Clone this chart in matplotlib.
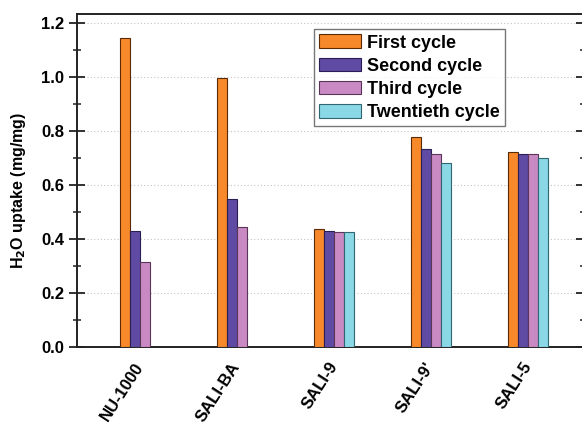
import numpy as np
import matplotlib.pyplot as plt
import matplotlib.transforms as mtrans
from matplotlib.ticker import MultipleLocator

# Data
materials = ['NU-1000', 'SALI-BA', 'SALI-9', "SALI-9'", 'SALI-5']
first_cycle = [1.143, 0.995, 0.437, 0.779, 0.722]
second_cycle = [0.428, 0.549, 0.430, 0.733, 0.714]
third_cycle = [0.313, 0.443, 0.426, 0.714, 0.714]
twentieth_cycle = [np.nan, np.nan, 0.426, 0.681, 0.701]

series = [('First cycle', first_cycle, '#F7892B', '#5a2a05'),
          ('Second cycle', second_cycle, '#5F4BA3', '#2a1f55'),
          ('Third cycle', third_cycle, '#C98AC4', '#5a3558'),
          ('Twentieth cycle', twentieth_cycle, '#8AD7E6', '#2f6670')]

plt.rcParams['font.family'] = 'Liberation Sans'
plt.rcParams['font.weight'] = 'bold'

fig = plt.figure(figsize=(5.82, 4.23), dpi=100)
ax = fig.add_axes([77/582, 1-347/423, (584-77)/582, (347-14)/423])

x = np.arange(len(materials))
w = 0.103
for i, (lab, vals, col, ec) in enumerate(series):
    ax.bar(x + (i - 1.5)*w, vals, width=w, color=col, edgecolor=ec,
           linewidth=0.8, label=lab, zorder=3)

ax.set_xlim(-0.649, 4.577)
ax.set_ylim(0, 1.233)
ax.yaxis.set_minor_locator(MultipleLocator(0.1))
yt = np.arange(0, 1.21, 0.2)
ax.set_yticks(yt)
ax.set_yticklabels(['%.1f' % v for v in yt], fontsize=12, fontweight='bold')
ax.set_xticks(x)
ax.set_xticklabels(materials, rotation=57, ha='right', va='center',
                   rotation_mode='anchor', fontsize=12, fontweight='bold')
# nudge the rotated labels so their upper ends sit just left of the groups
shift = mtrans.ScaledTranslation(-13/100, 0, fig.dpi_scale_trans)
for lbl in ax.get_xticklabels():
    lbl.set_transform(lbl.get_transform() + shift)
ax.tick_params(axis='x', length=0, pad=12)
ax.tick_params(axis='y', which='major', direction='inout', length=11, width=1.3,
               colors='#222222', right=True)
ax.tick_params(axis='y', which='minor', direction='inout', length=6, width=1.1,
               colors='#222222', right=True)
for lbl in ax.get_yticklabels():
    lbl.set_color('black')

for s in ax.spines.values():
    s.set_linewidth(1.4)
    s.set_color('#222222')

ax.grid(axis='y', linestyle=(0, (1, 2)), color='#c4c4c4', linewidth=0.8, zorder=0)

ax.set_ylabel('H$_\\mathbf{2}$O uptake (mg/mg)', fontsize=11.5, fontweight='bold')
ax.yaxis.set_label_coords(-0.097, 0.47)

leg = ax.legend(loc='upper left', bbox_to_anchor=(0.4675, 0.955), fontsize=13,
                frameon=True, fancybox=False, edgecolor='#555555',
                handlelength=2.3, handleheight=0.8, handletextpad=0.35,
                labelspacing=0.33, borderpad=0.3, borderaxespad=0)
leg.get_frame().set_linewidth(1.0)
for t in leg.get_texts():
    t.set_fontweight('bold')

fig.savefig('out.png', dpi=100)
